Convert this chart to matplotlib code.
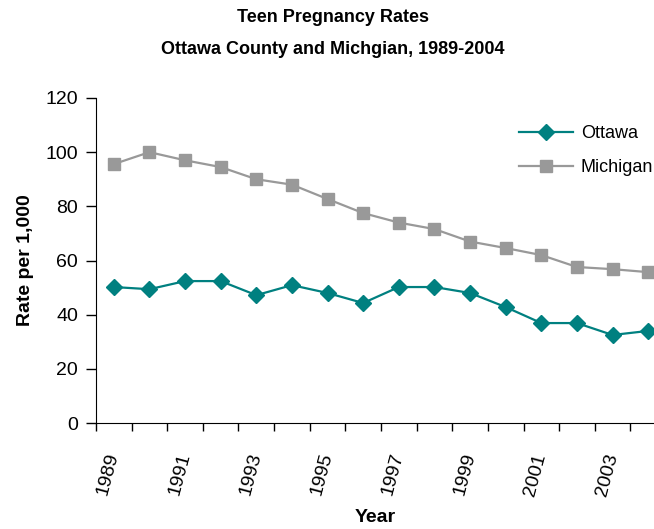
import numpy as np
import matplotlib.pyplot as plt

plt.rcParams['font.family'] = ['Liberation Sans', 'DejaVu Sans']

years = list(range(1989, 2005))
ottawa = [50.2, 49.4, 52.4, 52.4, 47.2, 50.9, 48.0, 44.3, 50.2, 50.2, 48.0, 42.8, 36.9, 36.9, 32.5, 34.0]
michigan = [95.6, 100.0, 97.0, 94.5, 90.0, 88.0, 82.7, 77.5, 74.0, 71.6, 67.0, 64.6, 62.0, 57.6, 56.8, 55.7]
tick_labels = [str(y) if y % 2 == 1 else '' for y in years]

fig = plt.figure(figsize=(6.54, 5.29), dpi=100)
ax = fig.add_axes([96 / 654, 106 / 529, 570 / 654, 325 / 529])

x = np.arange(len(years))
ax.plot(x, ottawa, color='#008080', lw=1.6, marker='D', ms=8, label='Ottawa')
ax.plot(x, michigan, color='#999999', lw=1.6, marker='s', ms=8, label='Michigan')

ax.set_xlim(-0.5, len(years) - 0.5)
ax.set_ylim(0, 120)
ax.set_yticks(range(0, 121, 20))
ax.tick_params(axis='y', labelsize=14, length=7, width=1, pad=6)

# year labels at category centres, tick marks between categories
ax.set_xticks(x)
ax.set_xticklabels(tick_labels, rotation=75, ha='right', va='center', rotation_mode='anchor', fontsize=14)
ax.set_xticks(np.arange(-0.5, len(years)), minor=True)
ax.tick_params(axis='x', which='major', length=0, pad=22)
ax.tick_params(axis='x', which='minor', length=6, width=1)

for s in ['top', 'right']:
    ax.spines[s].set_visible(False)

ax.set_ylabel('Rate per 1,000', fontsize=14, fontweight='bold', labelpad=8)
fig.text(375 / 654, 1 - 517 / 529, 'Year', fontsize=14, fontweight='bold', ha='center', va='center')

fig.text(333 / 654, 1 - 18 / 529, 'Teen Pregnancy Rates', fontsize=13, fontweight='bold', ha='center', va='center')
fig.text(333 / 654, 1 - 50 / 529, 'Ottawa County and Michgian, 1989-2004', fontsize=13, fontweight='bold', ha='center', va='center')

ax.legend(loc='upper left', bbox_to_anchor=(503 / 654, 1 - 109 / 529), bbox_transform=fig.transFigure,
          frameon=False, fontsize=13, handlelength=3, labelspacing=0.95, handletextpad=0.4)

fig.savefig('out.png', dpi=100)
